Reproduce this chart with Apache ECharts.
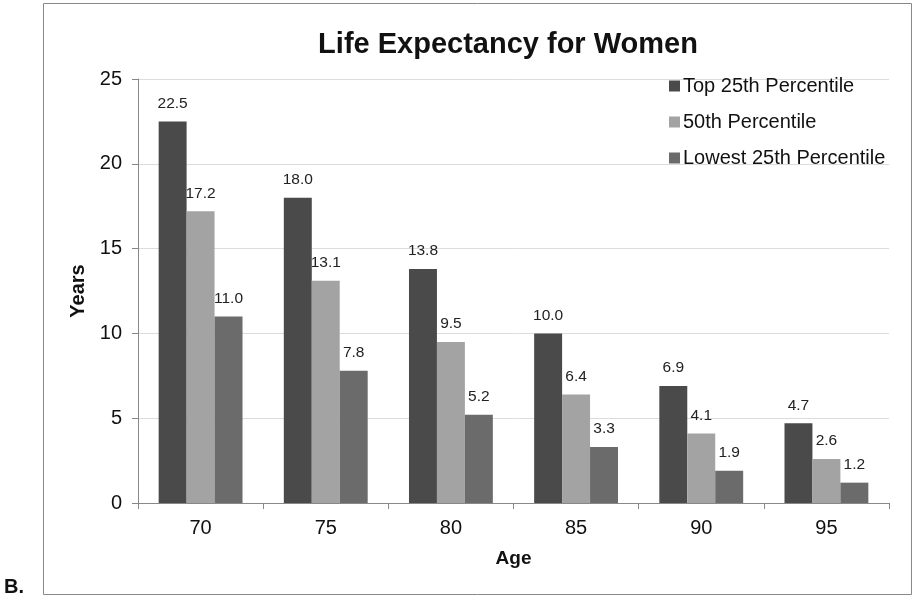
<!DOCTYPE html>
<html><head><meta charset="utf-8">
<script src="https://cdn.jsdelivr.net/npm/echarts@6/dist/echarts.min.js"></script>
<style>html,body{margin:0;padding:0;background:#fff}#c{width:917px;height:600px}</style>
</head><body><div id="c"></div>
<script>
var categories = ['70','75','80','85','90','95'];
var top25 = [22.5, 18.0, 13.8, 10.0, 6.9, 4.7];
var p50 = [17.2, 13.1, 9.5, 6.4, 4.1, 2.6];
var low25 = [11.0, 7.8, 5.2, 3.3, 1.9, 1.2];
var seriesNames = ['Top 25th Percentile', '50th Percentile', 'Lowest 25th Percentile'];
var colors = ['#4a4a4a', '#a3a3a3', '#6b6b6b'];
var font = 'Arial, "Liberation Sans", sans-serif';
var chart = echarts.init(document.getElementById('c'));
function mk(name, data, color) {
  return {
    name: name, type: 'bar', data: data, barGap: '0%', barCategoryGap: '33%',
    itemStyle: { color: color },
    label: { show: true, position: 'top', distance: 10, color: '#222', fontSize: 15.5, fontFamily: font,
      formatter: function (p) { return p.value.toFixed(1); } }
  };
}
chart.setOption({
  animation: false,
  backgroundColor: '#fff',
  color: colors,
  title: { text: 'Life Expectancy for Women', left: 503, top: 25, textAlign: 'center',
    textStyle: { fontSize: 29, fontWeight: 'bold', fontFamily: font, color: '#111' } },
  legend: { orient: 'vertical', left: 664, top: 71, itemWidth: 11, itemHeight: 11, itemGap: 16,
    textStyle: { fontSize: 20, fontFamily: font, color: '#111', padding: [0,0,0,-2] },
    data: seriesNames.map(function(n){ return { name: n, icon: 'rect' }; }) },
  grid: { left: 138, right: 28, top: 79, bottom: 97 },
  xAxis: { type: 'category', data: categories,
    name: 'Age', nameLocation: 'middle', nameGap: 46,
    nameTextStyle: { fontSize: 19, fontWeight: 'bold', fontFamily: font, color: '#111' },
    axisLine: { lineStyle: { color: '#888' } },
    axisTick: { show: true, length: 6, lineStyle: { color: '#888' } },
    axisLabel: { fontSize: 20, fontFamily: font, color: '#111', margin: 15 } },
  yAxis: { type: 'value', min: 0, max: 25, interval: 5,
    name: 'Years', nameLocation: 'middle', nameGap: 48, nameRotate: 90,
    nameTextStyle: { fontSize: 20, fontWeight: 'bold', fontFamily: font, color: '#111' },
    axisLine: { show: true, lineStyle: { color: '#888' } },
    axisTick: { show: true, length: 6, lineStyle: { color: '#888' } },
    axisLabel: { fontSize: 20, fontFamily: font, color: '#111', margin: 16 },
    splitLine: { lineStyle: { color: '#dcdcdc' } } },
  graphic: [
    { type: 'rect', shape: { x: 43.5, y: 3.5, width: 868, height: 591 }, z: -1,
      style: { fill: 'none', stroke: '#888', lineWidth: 1 } },
    { type: 'text', left: 4, top: 577, style: { text: 'B.', fontSize: 20, fontWeight: 'bold', fontFamily: font, fill: '#111' } }
  ],
  series: [mk(seriesNames[0], top25, colors[0]), mk(seriesNames[1], p50, colors[1]), mk(seriesNames[2], low25, colors[2])]
});
</script></body></html>
